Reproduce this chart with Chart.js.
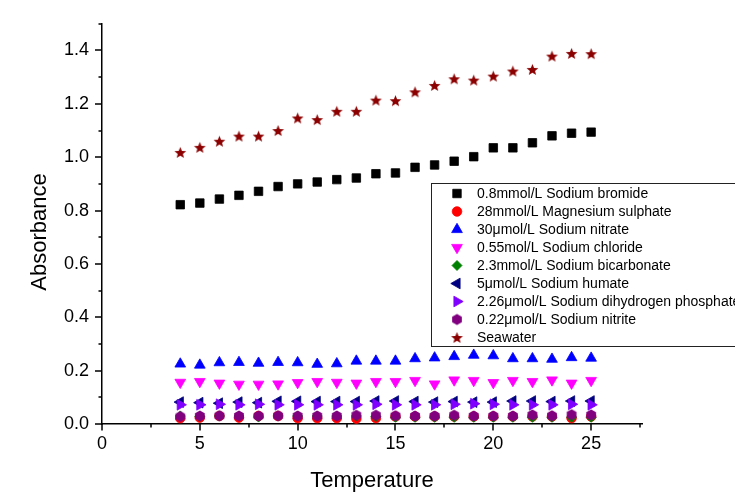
<!DOCTYPE html>
<html><head><meta charset="utf-8">
<script src="https://cdn.jsdelivr.net/npm/chart.js@4.4.1/dist/chart.umd.min.js"></script>
<style>html,body{margin:0;padding:0;background:#fff}canvas{display:block}</style>
</head><body>
<canvas id="c" width="735" height="494"></canvas>
<script>
const temperatures = [4,5,6,7,8,9,10,11,12,13,14,15,16,17,18,19,20,21,22,23,24,25];
const sodiumBromide = [0.822,0.828,0.843,0.857,0.872,0.890,0.900,0.907,0.916,0.922,0.938,0.941,0.962,0.971,0.985,1.002,1.035,1.035,1.054,1.080,1.090,1.094];
const magnesiumSulphate = [0.022,0.024,0.030,0.024,0.030,0.030,0.022,0.022,0.022,0.020,0.022,0.028,0.028,0.028,0.028,0.028,0.028,0.028,0.028,0.028,0.022,0.028];
const sodiumNitrate = [0.225,0.221,0.230,0.231,0.228,0.231,0.230,0.224,0.226,0.236,0.236,0.236,0.245,0.248,0.253,0.258,0.256,0.245,0.245,0.243,0.249,0.247];
const sodiumChloride = [0.156,0.159,0.153,0.149,0.149,0.150,0.155,0.159,0.156,0.153,0.159,0.159,0.163,0.150,0.165,0.163,0.155,0.163,0.159,0.165,0.153,0.163];
const sodiumBicarbonate = [0.030,0.028,0.030,0.030,0.026,0.030,0.030,0.030,0.030,0.030,0.028,0.025,0.025,0.025,0.025,0.025,0.025,0.025,0.025,0.025,0.025,0.025];
const sodiumHumate = [0.082,0.080,0.078,0.082,0.080,0.085,0.085,0.084,0.084,0.084,0.086,0.086,0.084,0.082,0.084,0.082,0.082,0.086,0.086,0.084,0.086,0.086];
const sodiumDihydrogenPhosphate = [0.072,0.072,0.074,0.072,0.074,0.072,0.072,0.072,0.072,0.072,0.074,0.072,0.072,0.072,0.074,0.076,0.074,0.072,0.072,0.072,0.074,0.072];
const sodiumNitrite = [0.028,0.030,0.031,0.030,0.030,0.031,0.030,0.030,0.030,0.033,0.033,0.031,0.030,0.030,0.033,0.030,0.030,0.030,0.034,0.031,0.035,0.034];
const seawater = [1.018,1.037,1.060,1.079,1.079,1.100,1.147,1.141,1.172,1.172,1.214,1.212,1.245,1.269,1.294,1.289,1.304,1.323,1.329,1.379,1.389,1.388];

const seriesLabels = ['0.8mmol/L Sodium bromide','28mmol/L Magnesium sulphate','30\u03bcmol/L Sodium nitrate','0.55mol/L Sodium chloride','2.3mmol/L Sodium bicarbonate','5\u03bcmol/L Sodium humate','2.26\u03bcmol/L Sodium dihydrogen phosphate','0.22\u03bcmol/L Sodium nitrite','Seawater'];

const xMajorTicks = [0,5,10,15,20,25];
const xTickLabels = ['0','5','10','15','20','25'];
const xMinorTicks = [2.5,7.5,12.5,17.5,22.5,27.5];
const yMajorTicks = [0,0.2,0.4,0.6,0.8,1.0,1.2,1.4];
const yTickLabels = ['0.0','0.2','0.4','0.6','0.8','1.0','1.2','1.4'];
const yMinorTicks = [0.1,0.3,0.5,0.7,0.9,1.1,1.3,1.5];
const xTitle = 'Temperature';
const yTitle = 'Absorbance';

function makeStar(color, outer, inner) {
  const s = Math.ceil(outer * 2 + 2);
  const c = document.createElement('canvas');
  c.width = s; c.height = s;
  const g = c.getContext('2d');
  g.fillStyle = color;
  g.beginPath();
  for (let i = 0; i < 10; i++) {
    const r = i % 2 === 0 ? outer : inner;
    const a = -Math.PI / 2 + i * Math.PI / 5;
    const px = s / 2 + r * Math.cos(a), py = s / 2 + 0.6 + r * Math.sin(a);
    if (i === 0) g.moveTo(px, py); else g.lineTo(px, py);
  }
  g.closePath(); g.fill();
  return c;
}
function makeHex(color, r) {
  const s = Math.ceil(r * 2 + 2);
  const c = document.createElement('canvas');
  c.width = s; c.height = s;
  const g = c.getContext('2d');
  g.fillStyle = color;
  g.beginPath();
  for (let i = 0; i < 6; i++) {
    const a = -Math.PI / 2 + i * Math.PI / 3;
    const px = s / 2 + r * Math.cos(a), py = s / 2 + r * Math.sin(a);
    if (i === 0) g.moveTo(px, py); else g.lineTo(px, py);
  }
  g.closePath(); g.fill();
  return c;
}

const styles = [
  {color:'#000000', style:'rect', radius:6, rot:0},
  {color:'#FF0000', style:'circle', radius:4.8, rot:0},
  {color:'#0000FF', style:'triangle', radius:6.2, rot:0},
  {color:'#FF00FF', style:'triangle', radius:6.2, rot:180},
  {color:'#008000', style:'rectRot', radius:5, rot:0},
  {color:'#000080', style:'triangle', radius:6.2, rot:270},
  {color:'#8000FF', style:'triangle', radius:6.2, rot:90},
  {color:'#800080', style:makeHex('#800080', 5.6), radius:5.6, rot:0},
  {color:'#8B0000', style:makeStar('#8B0000', 6.2, 2.7), radius:6, rot:0}
];
const allSeries = [sodiumBromide, magnesiumSulphate, sodiumNitrate, sodiumChloride, sodiumBicarbonate, sodiumHumate, sodiumDihydrogenPhosphate, sodiumNitrite, seawater];

const datasets = allSeries.map((vals, i) => ({
  label: seriesLabels[i],
  data: temperatures.map((t, j) => ({x: t, y: vals[j]})),
  showLine: false,
  pointStyle: styles[i].style,
  pointRotation: styles[i].rot,
  pointRadius: styles[i].radius,
  pointBorderWidth: 0.8,
  backgroundColor: styles[i].color,
  borderColor: styles[i].color,
  order: allSeries.length - i
}));

const FONT = "'Liberation Sans', Arial, sans-serif";

const tickPlugin = {
  id: 'ticksDraw',
  afterDraw(chart) {
    const ctx = chart.ctx, xs = chart.scales.x, ys = chart.scales.y, a = chart.chartArea;
    ctx.save();
    ctx.strokeStyle = '#000'; ctx.lineWidth = 1.5;
    ctx.beginPath();
    xMajorTicks.forEach(v => { const p = Math.round(xs.getPixelForValue(v)); ctx.moveTo(p, a.bottom); ctx.lineTo(p, a.bottom + 6.5); });
    xMinorTicks.forEach(v => { const p = Math.round(xs.getPixelForValue(v)); ctx.moveTo(p, a.bottom); ctx.lineTo(p, a.bottom + 3.5); });
    yMajorTicks.forEach(v => { const p = Math.round(ys.getPixelForValue(v)); ctx.moveTo(a.left, p); ctx.lineTo(a.left - 7, p); });
    yMinorTicks.forEach(v => { const p = Math.round(ys.getPixelForValue(v)); ctx.moveTo(a.left, p); ctx.lineTo(a.left - 3.5, p); });
    ctx.stroke();
    // vertical axis title
    ctx.fillStyle = '#000';
    ctx.font = '22px ' + FONT;
    ctx.textAlign = 'center'; ctx.textBaseline = 'middle';
    ctx.translate(40, 232);
    ctx.rotate(-Math.PI / 2);
    ctx.fillText(yTitle, 0, 0);
    ctx.restore();
  }
};

const legendPlugin = {
  id: 'boxLegend',
  afterDraw(chart) {
    const ctx = chart.ctx;
    ctx.save();
    ctx.fillStyle = '#fff';
    ctx.fillRect(431.5, 183.5, 400, 163);
    ctx.strokeStyle = '#222'; ctx.lineWidth = 1;
    ctx.strokeRect(431.5, 183.5, 400, 163);
    chart.data.datasets.forEach((ds, i) => {
      const y = 193.5 + i * 18;
      ctx.fillStyle = ds.backgroundColor; ctx.strokeStyle = ds.borderColor; ctx.lineWidth = 0.8;
      Chart.helpers.drawPoint(ctx, {pointStyle: ds.pointStyle, rotation: ds.pointRotation, radius: ds.pointRadius, borderWidth: 0.8}, 457, y);
      ctx.fillStyle = '#000';
      ctx.font = '14px ' + FONT;
      ctx.textBaseline = 'middle'; ctx.textAlign = 'left';
      ctx.fillText(ds.label, 477, y + 0.5);
    });
    ctx.restore();
  }
};

new Chart(document.getElementById('c'), {
  type: 'scatter',
  data: {datasets},
  options: {
    responsive: false,
    animation: false,
    events: [],
    layout: {padding: {left: 0, top: 23, right: 93, bottom: 0}},
    plugins: {legend: {display: false}, tooltip: {enabled: false}},
    scales: {
      x: {
        type: 'linear', min: 0, max: 27.6,
        afterBuildTicks: s => { s.ticks = xMajorTicks.concat(xMinorTicks).sort((p, q) => p - q).map(v => ({value: v})); },
        afterFit: s => { s.height = 70; },
        ticks: {
          autoSkip: false, maxRotation: 0, padding: 9, color: '#000',
          font: {family: FONT, size: 18},
          callback: v => { const k = xMajorTicks.indexOf(v); return k >= 0 ? xTickLabels[k] : ''; }
        },
        grid: {display: false, drawTicks: false},
        border: {display: true, color: '#000', width: 1.5},
        title: {display: true, text: xTitle, color: '#000', font: {family: FONT, size: 22}, padding: {top: 0, bottom: 0}}
      },
      y: {
        type: 'linear', min: 0, max: 1.5,
        afterBuildTicks: s => { s.ticks = yMajorTicks.concat(yMinorTicks).sort((p, q) => p - q).map(v => ({value: v})); },
        afterFit: s => { s.width = 102; },
        ticks: {
          autoSkip: false, padding: 13, color: '#000',
          font: {family: FONT, size: 18},
          callback: v => { const k = yMajorTicks.findIndex(m => Math.abs(m - v) < 1e-9); return k >= 0 ? yTickLabels[k] : ''; }
        },
        grid: {display: false, drawTicks: false},
        border: {display: true, color: '#000', width: 1.5},
        title: {display: false}
      }
    }
  },
  plugins: [tickPlugin, legendPlugin]
});
</script>
</body></html>
